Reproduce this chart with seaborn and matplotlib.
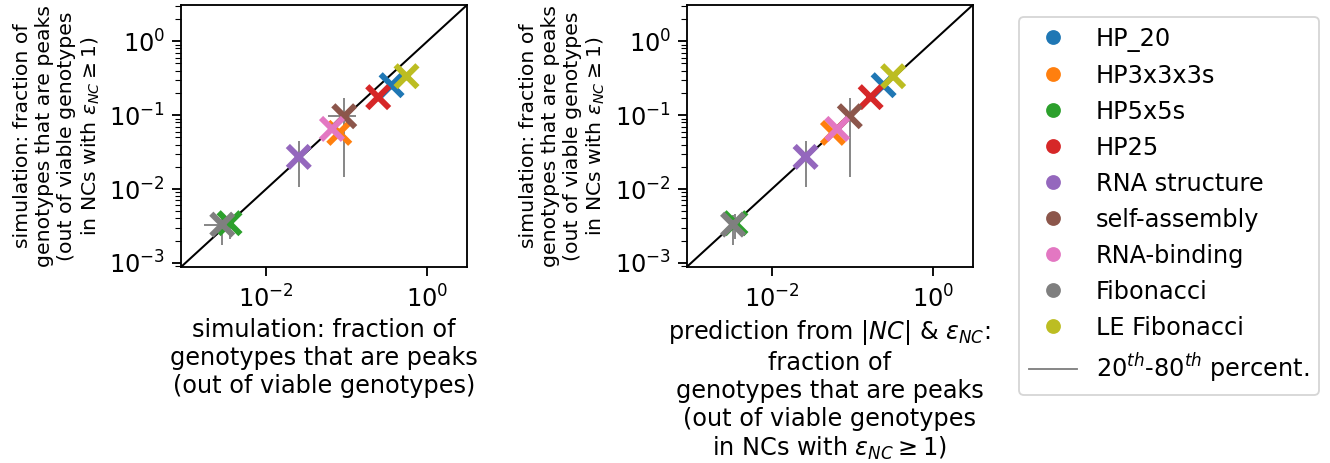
import numpy as np
import pandas as pd
import matplotlib
matplotlib.use("Agg")
import matplotlib.pyplot as plt
from matplotlib.lines import Line2D
from matplotlib.ticker import NullLocator, LogLocator
import seaborn as sns

# ---- data -------------------------------------------------------------
datasets = ['HP_20', 'HP3x3x3s', 'HP5x5s', 'HP25', 'RNA structure',
            'self-assembly', 'RNA-binding', 'Fibonacci', 'LE Fibonacci']

# simulation: fraction of viable genotypes that are peaks
sim_all = [0.359, 0.0807, 0.00352, 0.245, 0.0254, 0.093, 0.0655, 0.00286, 0.55]
# prediction from |NC| and eps_NC
pred_nc = [0.243, 0.0573, 0.00354, 0.168, 0.0262, 0.0927, 0.0647, 0.00331, 0.319]
# simulation: fraction of peaks among genotypes in NCs with eps_NC >= 1
sim_nc = [0.254, 0.0575, 0.00345, 0.175, 0.0272, 0.0966, 0.0651, 0.0033, 0.336]

# 20th-80th percentiles (NaN where only one landscape exists)
sim_all_lo = [np.nan, np.nan, np.nan, np.nan, np.nan, 0.058, np.nan, 0.00168, np.nan]
sim_all_hi = [np.nan, np.nan, np.nan, np.nan, np.nan, 0.130, np.nan, 0.0038, np.nan]
sim_nc_lo = [np.nan, np.nan, 0.00214, np.nan, 0.0107, 0.0146, np.nan, 0.00177, np.nan]
sim_nc_hi = [np.nan, np.nan, 0.0046, np.nan, 0.0443, 0.171, np.nan, 0.0045, np.nan]

df = pd.DataFrame({'dataset': datasets, 'sim_all': sim_all, 'pred_nc': pred_nc,
                   'sim_nc': sim_nc, 'sim_all_lo': sim_all_lo, 'sim_all_hi': sim_all_hi,
                   'sim_nc_lo': sim_nc_lo, 'sim_nc_hi': sim_nc_hi})

palette = dict(zip(datasets, sns.color_palette('tab10', len(datasets))))
lims = (10 ** -3.055, 10 ** 0.49)

ylab = ('simulation: fraction of\ngenotypes that are peaks\n'
        '(out of viable genotypes\nin NCs with $\\varepsilon_{NC} \\geq 1$)')
xlabs = ['simulation: fraction of\ngenotypes that are peaks\n(out of viable genotypes)',
         'prediction from $|NC|$ & $\\varepsilon_{NC}$:\nfraction of\n'
         'genotypes that are peaks\n(out of viable genotypes\n'
         'in NCs with $\\varepsilon_{NC} \\geq 1$)']

plt.rcParams['font.size'] = 13
plt.rcParams['xtick.major.size'] = 5
plt.rcParams['ytick.major.size'] = 5
plt.rcParams['ytick.minor.size'] = 3
plt.rcParams['xtick.major.width'] = 1
plt.rcParams['ytick.major.width'] = 1
plt.rcParams['xtick.major.pad'] = 5
plt.rcParams['axes.linewidth'] = 1

fig = plt.figure(figsize=(10, 463 / 133), dpi=133)
axes = [fig.add_axes([181 / 1330, 1 - 267 / 463, 286 / 1330, 262 / 463]),
        fig.add_axes([686.7 / 1330, 1 - 267 / 463, 286 / 1330, 262 / 463])]

for ax, xcol, xlab in zip(axes, ['sim_all', 'pred_nc'], xlabs):
    ax.set_xscale('log')
    ax.set_yscale('log')
    ax.axline((1e-3, 1e-3), (1, 1), color='k', lw=1.1, zorder=1)

    # vertical percentile ranges
    yb = df.dropna(subset=['sim_nc_lo'])
    ax.errorbar(yb[xcol], yb['sim_nc'],
                yerr=[yb['sim_nc'] - yb['sim_nc_lo'], yb['sim_nc_hi'] - yb['sim_nc']],
                fmt='none', ecolor='grey', elinewidth=1, zorder=2)
    # horizontal percentile ranges for the simulated x-values
    if xcol == 'sim_all':
        xb = df.dropna(subset=['sim_all_lo'])
        ax.errorbar(xb['sim_all'], xb['sim_nc'],
                    xerr=[xb['sim_all'] - xb['sim_all_lo'], xb['sim_all_hi'] - xb['sim_all']],
                    fmt='none', ecolor='grey', elinewidth=1, zorder=2)

    sns.scatterplot(data=df, x=xcol, y='sim_nc', hue='dataset', palette=palette,
                    marker='x', s=140, linewidth=3.2, legend=False, ax=ax, zorder=3)

    ax.set_xticks([1e-2, 1])
    ax.xaxis.set_minor_locator(NullLocator())
    ax.set_yticks([1e-3, 1e-2, 1e-1, 1])
    ax.yaxis.set_minor_locator(LogLocator(subs=np.arange(2, 10)))
    ax.set_xlim(lims)
    ax.set_ylim(lims)
    ax.set_xlabel(xlab, fontsize=13, linespacing=1.2, labelpad=3)
    ax.set_ylabel(ylab, fontsize=11)

handles = [Line2D([0], [0], marker='o', ls='', ms=7, color=palette[d], label=d)
           for d in datasets]
handles.append(Line2D([0], [0], color='grey', lw=1, label='$20^{th}$-$80^{th}$ percent.'))
fig.legend(handles=handles, loc='upper left', bbox_to_anchor=(1019 / 1330, 1 - 17 / 463),
           borderaxespad=0, fontsize=13)

fig.savefig('out.png', dpi=133)
